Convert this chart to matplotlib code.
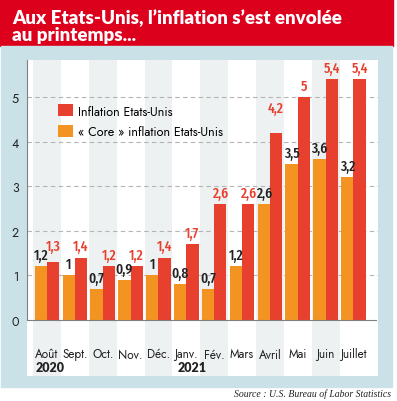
import numpy as np
import matplotlib
matplotlib.use('Agg')
from matplotlib import pyplot as plt
from matplotlib.patches import Rectangle

months = ['Août', 'Sept.', 'Oct.', 'Nov.', 'Déc.', 'Janv.', 'Fév.',
          'Mars', 'Avril', 'Mai', 'Juin', 'Juillet']
inflation = [1.3, 1.4, 1.2, 1.2, 1.4, 1.7, 2.6, 2.6, 4.2, 5.0, 5.4, 5.4]
core = [1.2, 1.0, 0.7, 0.9, 1.0, 0.8, 0.7, 1.2, 2.6, 3.5, 3.6, 3.2]
years = ['2020', '2021']
yticks = [0, 1, 2, 3, 4, 5]

RED = '#e8402f'
ORANGE = '#f39422'
BANNER = '#dc001c'
BLUE = '#c9e1e7'
STRIPE = '#edf1f2'
DARK = '#222222'
COND = ['Fira Sans Extra Condensed', 'Fira Sans Condensed', 'Archivo Narrow', 'DejaVu Sans']
GEO = ['Jost', 'Lato', 'DejaVu Sans']
HEAVY = ['Lato', 'DejaVu Sans']


def fmt(v):
    s = f'{v:.1f}'.rstrip('0').rstrip('.')
    return s.replace('.', ',')


fig = plt.figure(figsize=(3.97, 4.02), dpi=100)
W, H = 397, 402

def px_rect(x0, y0, x1, y1, color):
    # rectangle given in pixels from top-left
    fig.patches.append(Rectangle((x0 / W, 1 - y1 / H), (x1 - x0) / W, (y1 - y0) / H,
                                 transform=fig.transFigure, color=color, zorder=-5))

px_rect(0, 0, 393, 47, BANNER)
px_rect(1, 47, 392, 388, BLUE)

fig.text(12 / W, 1 - 24 / H, 'Aux Etats-Unis, l\u2019inflation s\u2019est envolée',
         color='white', fontsize=13.5, fontweight='heavy', family=HEAVY,
         va='baseline', ha='left')
fig.text(12 / W, 1 - 41 / H, 'au printemps...',
         color='white', fontsize=13.5, fontweight='heavy', family=HEAVY,
         va='baseline', ha='left')
fig.text(391 / W, 1 - 397 / H, 'Source : U.S. Bureau of Labor Statistics',
         fontsize=7, style='italic', family='Liberation Serif',
         ha='right', va='baseline', color=DARK)

ax = fig.add_axes([27 / W, 1 - 377 / H, 351 / W, 316 / H])
ax.set_zorder(2)
ax.set_facecolor('white')
x = np.arange(len(months))
ax.set_xlim(-0.718, 11.88)
ax.set_ylim(-1.256, 5.83)

for i in x:
    if i % 2 == 0:
        ax.axvspan(i - 0.5, i + 0.5, color=STRIPE, lw=0, zorder=0)

for v in yticks[1:]:
    ax.axhline(v, color='#b5b5b5', lw=0.8, ls=(0, (4, 3)), zorder=1)

bw = 0.44
ax.bar(x - bw / 2, core, bw, color=ORANGE, zorder=2,
       label='\u00ab Core \u00bb inflation Etats-Unis')
ax.bar(x + bw / 2, inflation, bw, color=RED, zorder=2,
       label='Inflation Etats-Unis')

# label nudges (data units) where the original moves a label further up
nudge_red = {0: 0.1, 8: 0.3}
for i in x:
    ax.text(i - bw / 2, core[i] + 0.09, fmt(core[i]), ha='center', va='bottom',
            fontsize=10.5, family=COND, fontweight='medium', color=DARK, zorder=3)
    ax.text(i + bw / 2, inflation[i] + 0.1 + nudge_red.get(i, 0), fmt(inflation[i]),
            ha='center', va='bottom', fontsize=10.5, family=COND, fontweight='medium',
            color=RED, zorder=3)

for i, m in enumerate(months):
    ax.text(i, -0.76, m, ha='center', va='center', fontsize=8.5, family=GEO,
            color=DARK)
ax.text(0.1, -1.05, years[0], ha='center', va='center', fontsize=9, family=HEAVY,
        fontweight='heavy', color=DARK)
ax.text(5.2, -1.05, years[1], ha='center', va='center', fontsize=9, family=HEAVY,
        fontweight='heavy', color=DARK)

ax.set_yticks(yticks)
ax.set_yticklabels([str(t) for t in yticks], fontsize=9, family=GEO, color=DARK)
ax.set_xticks([])
ax.tick_params(axis='y', length=0, pad=6)
for s in ['top', 'right']:
    ax.spines[s].set_visible(False)
ax.spines['left'].set_bounds(0, 5.83)
ax.spines['left'].set_color('#808080')
ax.spines['bottom'].set_position(('data', 0))
ax.spines['bottom'].set_color('#808080')
ax.spines['bottom'].set_bounds(-0.718, 11.82)

h, l = ax.get_legend_handles_labels()
ax.legend(h[::-1], l[::-1], loc='upper left', bbox_to_anchor=(0.055, 0.895),
          frameon=False, prop={'family': GEO, 'size': 9},
          handlelength=1.2, handleheight=1.1, handletextpad=0.4, labelspacing=0.55)

fig.savefig('out.png', dpi=100)
